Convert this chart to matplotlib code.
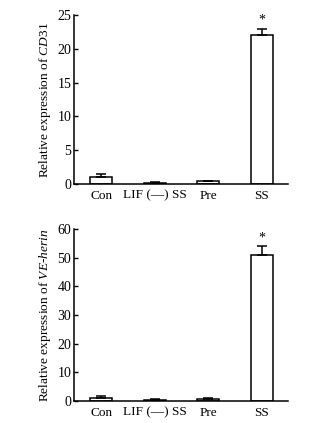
import matplotlib
matplotlib.use("Agg")
import matplotlib.pyplot as plt

plt.rcParams['font.family'] = ['Liberation Serif', 'DejaVu Serif']
plt.rcParams['mathtext.fontset'] = 'custom'
plt.rcParams['mathtext.rm'] = 'Liberation Serif'
plt.rcParams['mathtext.it'] = 'Liberation Serif:italic'

categories = ['Con', 'LIF (\u2014) SS', 'Pre', 'SS']
cd31_values = [1.0, 0.1, 0.4, 22.1]
cd31_err = [0.5, 0.2, 0.05, 0.9]
ve_values = [1.0, 0.5, 0.6, 50.8]
ve_err = [0.8, 0.05, 0.3, 3.2]
cd31_ticks = [0, 5, 10, 15, 20, 25]
ve_ticks = [0, 10, 20, 30, 40, 50, 60]

W, H = 333, 423
fig = plt.figure(figsize=(W / 100, H / 100), dpi=100)

def panel(rect, vals, errs, ticks, ylabel, star_y):
    ax = fig.add_axes(rect)
    x = list(range(len(categories)))
    ax.bar(x, vals, width=0.41, color='white', edgecolor='black', linewidth=1.1, zorder=2)
    ax.errorbar(x, vals, yerr=[[0] * len(errs), errs], fmt='none', ecolor='black',
                elinewidth=1.1, capsize=3.5, capthick=1.1, zorder=3)
    ax.text(3, star_y, '*', ha='center', va='center', fontsize=10)
    ax.set_xlim(-0.51, 3.49)
    ax.set_ylim(0, ticks[-1])
    ax.set_yticks(ticks)
    ax.set_xticks(x)
    ax.set_xticklabels(categories, fontsize=9.5)
    ax.tick_params(axis='y', direction='in', length=3, labelsize=10, width=1, pad=2)
    ax.tick_params(axis='x', length=0, pad=4)
    for s in ['top', 'right']:
        ax.spines[s].set_visible(False)
    for s in ['left', 'bottom']:
        ax.spines[s].set_linewidth(1.1)
    ax.set_ylabel(ylabel, fontsize=9.6, labelpad=3)
    return ax

panel([74 / W, 1 - 184 / H, 214 / W, 169 / H], cd31_values, cd31_err, cd31_ticks,
      r'Relative expression of $\mathit{CD31}$', 24.3)
panel([74 / W, 1 - 401 / H, 214 / W, 172 / H], ve_values, ve_err, ve_ticks,
      r'Relative expression of $\mathit{VE}$-$\mathit{herin}$', 56.8)

fig.savefig('out.png', dpi=100)
